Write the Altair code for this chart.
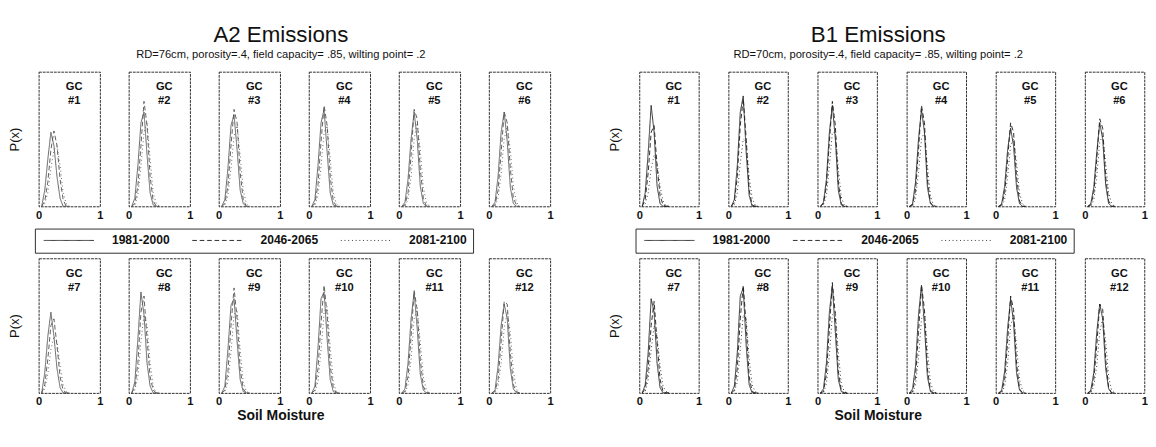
import altair as alt
import pandas as pd

# x grid (soil moisture) on which each density curve is read
GRID = [0.05, 0.10, 0.15, 0.20, 0.25, 0.30, 0.35, 0.40, 0.45, 0.50]
PERIODS = ["1981-2000", "2046-2065", "2081-2100"]
GC_LABELS = ["GC\n#1", "GC\n#2", "GC\n#3", "GC\n#4", "GC\n#5", "GC\n#6",
             "GC\n#7", "GC\n#8", "GC\n#9", "GC\n#10", "GC\n#11", "GC\n#12"]

# ---- A2 emissions: P(x) values on GRID, one row per GC ----
A2_1981 = [
    [0, 0.12, 0.35, 0.55, 0.45, 0.22, 0.06, 0, 0, 0],
    [0, 0.06, 0.30, 0.62, 0.70, 0.38, 0.10, 0.01, 0, 0],
    [0, 0.05, 0.28, 0.60, 0.68, 0.42, 0.12, 0.02, 0, 0],
    [0, 0.05, 0.30, 0.62, 0.72, 0.40, 0.10, 0.01, 0, 0],
    [0, 0.03, 0.20, 0.50, 0.70, 0.50, 0.15, 0.02, 0, 0],
    [0, 0.03, 0.22, 0.55, 0.70, 0.48, 0.14, 0.02, 0, 0],
    [0, 0.15, 0.42, 0.60, 0.42, 0.18, 0.04, 0, 0, 0],
    [0, 0.08, 0.40, 0.75, 0.58, 0.22, 0.05, 0, 0, 0],
    [0, 0.05, 0.32, 0.65, 0.70, 0.38, 0.10, 0.01, 0, 0],
    [0, 0.05, 0.33, 0.70, 0.75, 0.40, 0.10, 0.01, 0, 0],
    [0, 0.03, 0.22, 0.55, 0.75, 0.48, 0.14, 0.02, 0, 0],
    [0, 0.02, 0.20, 0.50, 0.66, 0.55, 0.18, 0.03, 0, 0],
]
A2_2046 = [
    [0, 0.04, 0.18, 0.42, 0.56, 0.45, 0.20, 0.05, 0, 0],
    [0, 0.02, 0.15, 0.45, 0.78, 0.60, 0.22, 0.04, 0, 0],
    [0, 0.02, 0.15, 0.45, 0.72, 0.62, 0.25, 0.05, 0, 0],
    [0, 0.02, 0.16, 0.48, 0.75, 0.60, 0.22, 0.04, 0, 0],
    [0, 0.01, 0.10, 0.38, 0.72, 0.65, 0.28, 0.06, 0, 0],
    [0, 0.01, 0.12, 0.40, 0.70, 0.62, 0.28, 0.06, 0.01, 0],
    [0, 0.06, 0.25, 0.50, 0.55, 0.35, 0.12, 0.02, 0, 0],
    [0, 0.04, 0.22, 0.60, 0.72, 0.40, 0.12, 0.02, 0, 0],
    [0, 0.02, 0.16, 0.50, 0.78, 0.55, 0.18, 0.03, 0, 0],
    [0, 0.02, 0.18, 0.52, 0.80, 0.58, 0.20, 0.04, 0, 0],
    [0, 0.01, 0.12, 0.42, 0.76, 0.62, 0.25, 0.05, 0, 0],
    [0, 0.01, 0.10, 0.38, 0.68, 0.66, 0.30, 0.06, 0.01, 0],
]
A2_2081 = [
    [0, 0.02, 0.10, 0.28, 0.42, 0.45, 0.30, 0.10, 0.02, 0],
    [0, 0.01, 0.08, 0.30, 0.55, 0.62, 0.35, 0.10, 0.02, 0],
    [0, 0.01, 0.08, 0.28, 0.52, 0.60, 0.38, 0.12, 0.02, 0],
    [0, 0.01, 0.08, 0.30, 0.55, 0.60, 0.35, 0.10, 0.02, 0],
    [0, 0, 0.05, 0.22, 0.50, 0.62, 0.42, 0.14, 0.03, 0],
    [0, 0, 0.06, 0.24, 0.50, 0.60, 0.42, 0.15, 0.03, 0],
    [0, 0.03, 0.14, 0.32, 0.42, 0.38, 0.20, 0.06, 0.01, 0],
    [0, 0.02, 0.12, 0.38, 0.58, 0.50, 0.22, 0.05, 0, 0],
    [0, 0.01, 0.08, 0.30, 0.58, 0.62, 0.32, 0.08, 0.01, 0],
    [0, 0.01, 0.08, 0.32, 0.60, 0.64, 0.34, 0.08, 0.01, 0],
    [0, 0, 0.06, 0.25, 0.55, 0.62, 0.38, 0.12, 0.02, 0],
    [0, 0, 0.05, 0.22, 0.48, 0.60, 0.45, 0.16, 0.03, 0],
]

# ---- B1 emissions ----
B1_1981 = [
    [0, 0.10, 0.40, 0.75, 0.55, 0.15, 0.02, 0, 0, 0],
    [0, 0.05, 0.30, 0.70, 0.82, 0.40, 0.08, 0, 0, 0],
    [0, 0.03, 0.20, 0.55, 0.75, 0.50, 0.12, 0.01, 0, 0],
    [0, 0.02, 0.18, 0.50, 0.72, 0.55, 0.14, 0.02, 0, 0],
    [0, 0.02, 0.15, 0.42, 0.58, 0.45, 0.14, 0.02, 0, 0],
    [0, 0.02, 0.14, 0.40, 0.62, 0.50, 0.16, 0.02, 0, 0],
    [0, 0.06, 0.30, 0.70, 0.60, 0.22, 0.04, 0, 0, 0],
    [0, 0.05, 0.30, 0.72, 0.78, 0.35, 0.06, 0, 0, 0],
    [0, 0.03, 0.22, 0.60, 0.80, 0.45, 0.10, 0.01, 0, 0],
    [0, 0.03, 0.20, 0.58, 0.80, 0.50, 0.12, 0.01, 0, 0],
    [0, 0.02, 0.16, 0.48, 0.70, 0.52, 0.15, 0.02, 0, 0],
    [0, 0.02, 0.15, 0.45, 0.66, 0.55, 0.18, 0.03, 0, 0],
]
B1_2046 = [
    [0, 0.05, 0.25, 0.55, 0.60, 0.30, 0.08, 0.01, 0, 0],
    [0, 0.03, 0.22, 0.60, 0.80, 0.50, 0.12, 0.01, 0, 0],
    [0, 0.02, 0.15, 0.48, 0.78, 0.60, 0.18, 0.02, 0, 0],
    [0, 0.01, 0.12, 0.42, 0.75, 0.62, 0.20, 0.03, 0, 0],
    [0, 0.01, 0.10, 0.35, 0.62, 0.55, 0.22, 0.04, 0, 0],
    [0, 0.01, 0.10, 0.35, 0.65, 0.58, 0.22, 0.04, 0, 0],
    [0, 0.03, 0.18, 0.50, 0.68, 0.38, 0.10, 0.01, 0, 0],
    [0, 0.02, 0.18, 0.55, 0.80, 0.50, 0.12, 0.01, 0, 0],
    [0, 0.01, 0.14, 0.48, 0.82, 0.58, 0.16, 0.02, 0, 0],
    [0, 0.01, 0.12, 0.45, 0.80, 0.62, 0.18, 0.02, 0, 0],
    [0, 0.01, 0.10, 0.38, 0.72, 0.62, 0.22, 0.03, 0, 0],
    [0, 0.01, 0.10, 0.35, 0.66, 0.62, 0.25, 0.04, 0, 0],
]
B1_2081 = [
    [0, 0.02, 0.10, 0.28, 0.38, 0.32, 0.15, 0.04, 0, 0],
    [0, 0.01, 0.10, 0.32, 0.50, 0.48, 0.22, 0.06, 0.01, 0],
    [0, 0.01, 0.08, 0.30, 0.55, 0.55, 0.28, 0.07, 0.01, 0],
    [0, 0, 0.06, 0.25, 0.50, 0.55, 0.30, 0.08, 0.01, 0],
    [0, 0, 0.05, 0.22, 0.45, 0.50, 0.32, 0.10, 0.02, 0],
    [0, 0, 0.05, 0.22, 0.48, 0.52, 0.32, 0.10, 0.02, 0],
    [0, 0.01, 0.10, 0.32, 0.50, 0.42, 0.20, 0.05, 0.01, 0],
    [0, 0.01, 0.08, 0.32, 0.58, 0.55, 0.25, 0.06, 0.01, 0],
    [0, 0, 0.07, 0.28, 0.58, 0.60, 0.30, 0.07, 0.01, 0],
    [0, 0, 0.06, 0.26, 0.55, 0.60, 0.32, 0.08, 0.01, 0],
    [0, 0, 0.05, 0.22, 0.50, 0.58, 0.35, 0.10, 0.02, 0],
    [0, 0, 0.05, 0.20, 0.45, 0.55, 0.38, 0.12, 0.02, 0],
]

FONT = "Liberation Sans"
PH = 145


def build_df(series):
    rows = []
    for period, curves in zip(PERIODS, series):
        for g, vals in enumerate(curves):
            for k, (xv, yv) in enumerate(zip(GRID, vals)):
                rows.append({
                    "gc": g, "row": g // 6, "col": g % 6,
                    "period": period, "x": xv, "y": yv,
                    "label": GC_LABELS[g],
                    "first": 1 if (k == 0 and period == PERIODS[0]) else 0,
                })
    return pd.DataFrame(rows)


def half(series, title, subtitle, pw, colspace, line_color):
    df = build_df(series)
    lines = alt.Chart().mark_line(color=line_color, strokeWidth=1).encode(
        x=alt.X("x:Q", scale=alt.Scale(domain=[0, 1]),
                axis=alt.Axis(values=[0, 1], title=None, labelFlush=False, ticks=False,
                              domain=False, grid=False, labelFontWeight="bold",
                              labelFontSize=12, labelPadding=4, format="d",
                              labelColor="#111")),
        y=alt.Y("y:Q", scale=alt.Scale(domain=[0, 1]),
                axis=alt.Axis(title="P(x)", labels=False, ticks=False, domain=False,
                              grid=False, titlePadding=15, titleFontSize=14,
                              titleFontWeight="normal", titleColor="#111")),
        strokeDash=alt.StrokeDash(
            "period:N",
            scale=alt.Scale(domain=PERIODS, range=[[1, 0], [5, 3], [1, 3]]),
            legend=alt.Legend(orient="none", legendX=-4, legendY=169,
                              direction="horizontal", title=None,
                              symbolType="M-4.5,0H4.5", symbolSize=144,
                              symbolOffset=24, symbolStrokeWidth=1,
                              symbolStrokeColor="#222", labelFontSize=13,
                              labelFontWeight="bold", labelOffset=40, columnPadding=20,
                              strokeColor="#222", padding=6, labelFont=FONT,
                              labelColor="#111"),
        ),
    )
    text = alt.Chart().mark_text(
        fontWeight="bold", fontSize=12, lineBreak="\n", align="center",
        baseline="top", lineHeight=15, font=FONT, color="#111",
    ).encode(x=alt.value(pw * 0.58), y=alt.value(11), text="label:N").transform_filter(
        alt.datum.first == 1)

    layer = alt.layer(lines, text, data=df).properties(width=pw, height=PH)
    fac = layer.facet(
        row=alt.Row("row:O", title=None, header=alt.Header(labels=False)),
        column=alt.Column("col:O", title=None, header=alt.Header(labels=False)),
        spacing={"row": 39, "column": colspace},
    ).resolve_axis(x="independent").properties(
        title=alt.TitleParams("Soil Moisture", orient="bottom", fontSize=15,
                              fontWeight="bold", font=FONT, offset=2, anchor="middle",
                              color="#111")
    )
    return alt.vconcat(fac, title=alt.TitleParams(
        title, subtitle=subtitle, fontSize=24, fontWeight="normal", font=FONT,
        subtitleFont=FONT, subtitleFontSize=12, subtitlePadding=4, anchor="middle",
        offset=12, color="#111", subtitleColor="#111"))


left = half([A2_1981, A2_2046, A2_2081], "A2 Emissions",
            "RD=76cm, porosity=.4, field capacity= .85, wilting point= .2",
            66, 23, "#555")
right = half([B1_1981, B1_2046, B1_2081], "B1 Emissions",
             "RD=70cm, porosity=.4, field capacity= .85, wilting point= .2",
             64, 24, "#222")

chart = alt.hconcat(left, right, spacing=59).resolve_scale(
    strokeDash="independent").resolve_legend(strokeDash="independent").properties(
    padding={"top": 0, "left": 0, "right": 0, "bottom": 0}
).configure(font=FONT).configure_view(stroke="#222", strokeWidth=1, strokeDash=[3, 1])

chart.save("out.html", embed_options={"renderer": "svg", "actions": False})
